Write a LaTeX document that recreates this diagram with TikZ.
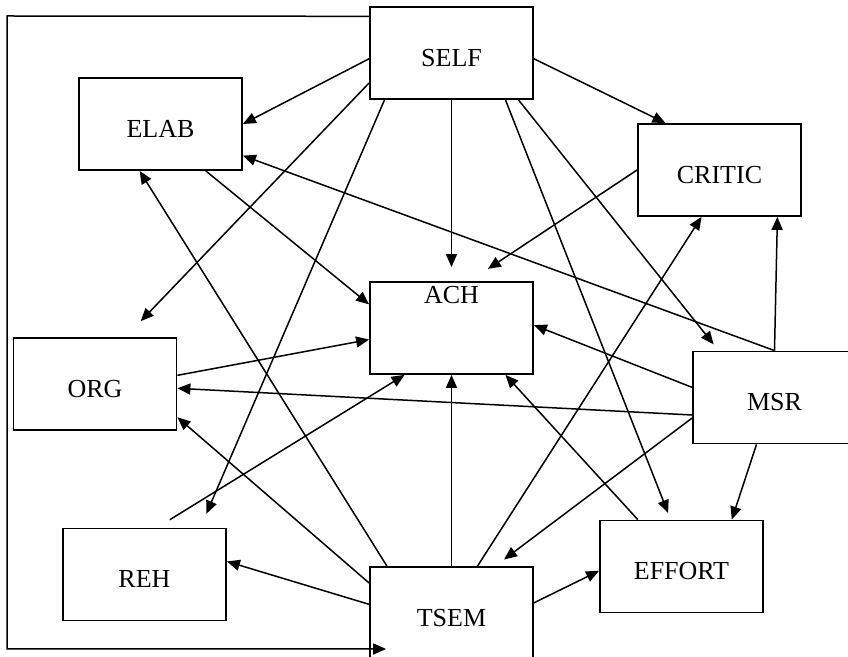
\documentclass[tikz,border=0pt]{standalone}
\usepackage{fontspec}
\setmainfont{Liberation Serif}
\usetikzlibrary{arrows.meta,calc}
\begin{document}
\begin{tikzpicture}[x=0.5pt,y=-0.5pt,
  box/.style={draw,line width=0.9pt,minimum width=81.5pt,minimum height=46pt,inner sep=0pt,text height=13.1pt,text depth=0pt,font=\fontsize{13}{15}\selectfont},
  link/.style={line width=0.75pt,-{Triangle[length=6.5pt,width=5.5pt]}}]
  \useasboundingbox (0,0) rectangle (848,657);
  \clip (0,0) rectangle (848,657);
  % the boxes
  \node [box] (self) at (451.5,53) {SELF};
  \node [box] (elab) at (160.5,124) {ELAB};
  \node [box] (critic) at (719.5,170) {CRITIC};
  \node [box] (ach) at (451.5,328) {};
  \node [anchor=north,inner sep=2.5pt,font=\fontsize{13}{15}\selectfont] (achlbl) at (ach.north) {ACH};
  \node [box] (org) at (95,384) {ORG};
  \node [box] (msr) at (774.5,397.5) {MSR};
  \node [box] (reh) at (144.5,574.5) {REH};
  \node [box] (effort) at (681.5,566.5) {EFFORT};
  \node [box] (tsem) at (451.5,613) {TSEM};
  % paths out of SELF
  \draw [link] (self.184) -- (elab.east);
  \draw [link,shorten >=11pt] (self.200) -- (org.57);
  \draw [link,shorten >=7.5pt] (self.215) -- (reh.40);
  \draw [link,shorten >=7pt] (self.south) -- (ach.north);
  \draw [link] (self.356) -- (critic.139);
  \draw [link,shorten >=3.5pt] (self.319) -- (effort.103);
  \draw [link,shorten >=4pt] (self.325) -- (msr.140);
  % paths into ACH
  \draw [link] (elab.314) -- (ach.164);
  \draw [link,shorten >=11pt] (critic.west) -- (ach.69);
  \draw [link] (org.6) -- (ach.188);
  \draw [link,shorten <=7.5pt] (reh.75) -- (ach.225);
  \draw [link] (effort.133) -- (ach.319);
  % paths out of MSR
  \draw [link] (msr.north) -- (critic.321);
  \draw [link] (msr.north) -- (elab.339);
  \draw [link] (msr.173) -- (ach.2);
  \draw [link] (msr.192) -- (org.357);
  \draw [link,shorten >=5.5pt] (msr.194) -- (tsem.47);
  \draw [link] (msr.249) -- (effort.43);
  % paths out of TSEM
  \draw [link] (tsem.174) -- (reh.9);
  \draw [link] (tsem.160) -- (org.338);
  \draw [link] (tsem.144) -- (elab.246);
  \draw [link] (tsem.north) -- (ach.south);
  \draw [link] (tsem.61) -- (critic.249);
  \draw [link] (tsem.7) -- (effort.183);
  % outer loop SELF -> TSEM
  \coordinate (corner) at (7,16);
  \coordinate (frameend) at ($(tsem.west)+(17,36)$);
  \draw [link] (self.156) -- (corner) |- (frameend);
\end{tikzpicture}
\end{document}
